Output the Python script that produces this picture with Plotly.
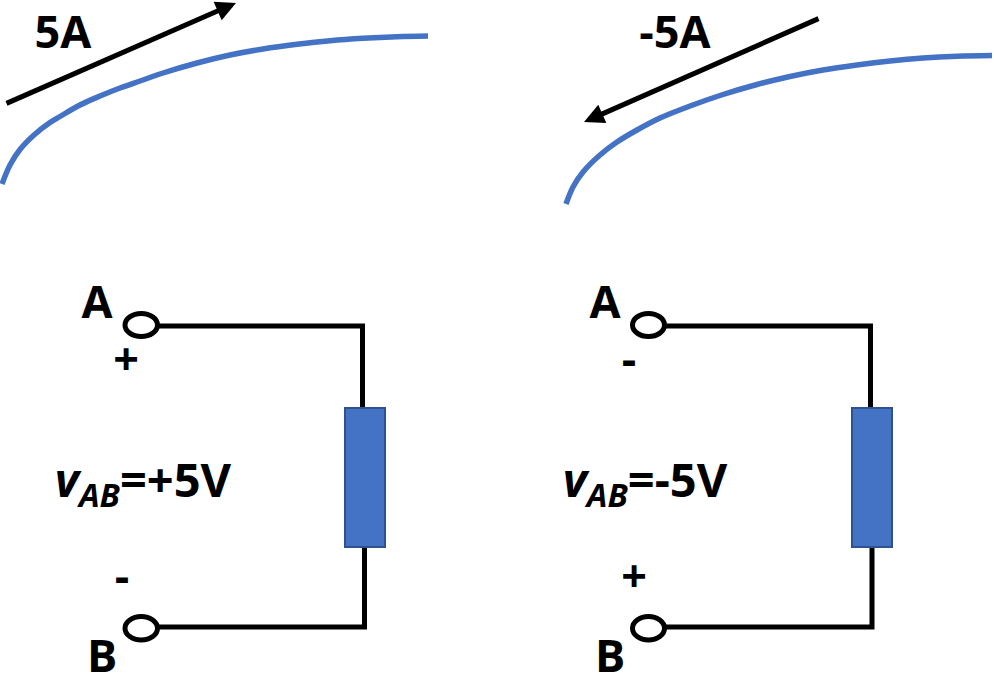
import plotly.graph_objects as go

BLUE = "#4472C4"
EDGE = "#2F528F"
BLACK = "#000000"
FONT = "Open Sans"

# Blue curves (in picture pixels)
curve_left_x = [2, 10, 20, 34, 50, 60, 80, 100, 120, 140, 163, 197, 230, 263, 297, 330, 363, 397, 428]
curve_left_y = [184, 165, 149.5, 135, 122.5, 116.5, 105, 96, 88, 81, 73, 63, 55, 49, 44.3, 40.7, 38.3, 36.7, 36]
curve_right_x = [566, 573, 583, 600, 617, 637, 660, 690, 723, 757, 790, 823, 857, 890, 923, 957, 992]
curve_right_y = [204, 187, 172, 155, 142, 130, 118, 106, 94.5, 84.5, 76.5, 70, 65, 61, 58, 56.2, 55.5]

# Current arrows: tail -> tip
arrow_tails = [(5, 104), (820, 18)]
arrow_tips = [(236, 3), (584, 122)]

# Wires
wires = [
    ([159, 362.5, 362.5], [326, 326, 407]),
    ([364.5, 364.5, 157], [547, 627, 627]),
    ([665, 870.5, 870.5], [326, 326, 407]),
    ([872, 872, 665], [547, 627, 627]),
]

# Terminals: x0, x1, y0, y1
terminals = [
    (125, 157.5, 313.5, 336.5),
    (125, 157.5, 616.5, 640),
    (632.5, 664.5, 313.5, 336.5),
    (632.5, 664.5, 616.5, 640),
]

# Resistors: x0, x1, y0, y1
resistors = [(345, 385, 408, 547), (852, 892, 408, 547)]

# Labels
label_text = ["5A", "-5A", "A", "B", "A", "B", "+", "-", "-", "+"]
label_x = [63, 675, 97, 102, 605, 610, 126, 122, 629, 634]
label_y = [37, 37, 307, 661, 307, 661, 364, 581, 364, 581]

eq_text = ["<i>v<sub>AB</sub></i>=+5V", "<i>v<sub>AB</sub></i>=-5V"]
eq_x = [143, 645]
eq_y = [485, 485]

fig = go.Figure()

for xs, ys in [(curve_left_x, curve_left_y), (curve_right_x, curve_right_y)]:
    fig.add_trace(go.Scatter(x=xs, y=ys, mode="lines", cliponaxis=False,
                             line=dict(color=BLUE, width=5.5, shape="spline", smoothing=1, simplify=False),
                             hoverinfo="skip", showlegend=False))

for xs, ys in wires:
    fig.add_trace(go.Scatter(x=xs, y=ys, mode="lines",
                             line=dict(color=BLACK, width=5),
                             hoverinfo="skip", showlegend=False))

for x0, x1, y0, y1 in terminals:
    fig.add_shape(type="circle", xref="x", yref="y", x0=x0, x1=x1, y0=y0, y1=y1,
                  line=dict(color=BLACK, width=5), fillcolor="rgba(0,0,0,0)")

for x0, x1, y0, y1 in resistors:
    fig.add_shape(type="rect", xref="x", yref="y", x0=x0, x1=x1, y0=y0, y1=y1,
                  line=dict(color=EDGE, width=2), fillcolor=BLUE)

for (tx, ty), (hx, hy) in zip(arrow_tails, arrow_tips):
    fig.add_annotation(x=hx, y=hy, ax=tx, ay=ty, xref="x", yref="y", axref="x", ayref="y",
                       text="", showarrow=True, arrowhead=2, arrowsize=0.8, arrowwidth=5,
                       arrowcolor=BLACK)

fig.add_trace(go.Scatter(x=label_x, y=label_y, mode="text", text=label_text,
                         textposition="middle center", cliponaxis=False,
                         textfont=dict(family=FONT, size=45, color=BLACK, weight=700),
                         hoverinfo="skip", showlegend=False))
fig.add_trace(go.Scatter(x=eq_x, y=eq_y, mode="text", text=eq_text,
                         textposition="middle center", cliponaxis=False,
                         textfont=dict(family=FONT, size=47, color=BLACK, weight=700),
                         hoverinfo="skip", showlegend=False))

fig.update_xaxes(range=[0, 994], visible=False, fixedrange=True)
fig.update_yaxes(range=[674, 0], visible=False, fixedrange=True)
fig.update_layout(width=994, height=674, margin=dict(l=0, r=0, t=0, b=0),
                  paper_bgcolor="white", plot_bgcolor="white", showlegend=False)
fig.write_html("out.html", config={"displayModeBar": False},
               post_script="document.body.style.margin='0';document.body.style.overflow='hidden';")
